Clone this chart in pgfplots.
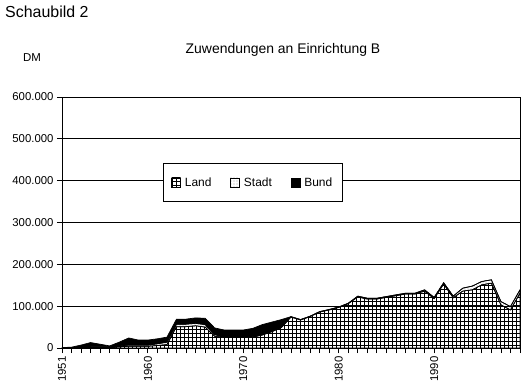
\documentclass[border=0pt]{standalone}
\usepackage{pgfplots}
\pgfplotsset{compat=1.18}
\usepackage{pgfplotstable}
\usetikzlibrary{patterns.meta}
\usepackage{fontspec}
\setmainfont{Liberation Sans}

\pgfplotstableread{
year land stadt bund
1951 0 0 1000
1952 500 500 1000
1953 1000 1000 5000
1954 2000 1000 10000
1955 2000 1000 6000
1956 2000 1000 2000
1957 3000 2000 9000
1958 4000 3000 17000
1959 4000 3000 12000
1960 4000 3000 12000
1961 6000 4000 12000
1962 8000 6000 12000
1963 51000 6000 12000
1964 51000 6000 12000
1965 53000 6000 13000
1966 50000 6000 15000
1967 28000 4000 16000
1968 25000 1000 17000
1969 25000 1000 17000
1970 25000 1000 17000
1971 26000 1000 20000
1972 31000 1000 24000
1973 39000 1000 22000
1974 49000 1000 18000
1975 74000 1000 0
1976 67000 1000 0
1977 75000 1000 0
1978 86000 1000 0
1979 91000 1000 0
1980 97000 1000 0
1981 106000 1000 0
1982 122000 2000 0
1983 117000 2000 0
1984 117000 2000 0
1985 121000 2000 0
1986 125000 2000 0
1987 129000 2000 0
1988 129000 2000 0
1989 136000 3000 0
1990 118000 3000 0
1991 153000 3000 0
1992 120000 4000 0
1993 136000 7000 0
1994 139000 9000 0
1995 151000 8000 0
1996 155000 8000 0
1997 103000 8000 0
1998 91000 8000 0
1999 131000 8000 0
}\datatable

\begin{document}
\begin{tikzpicture}
\useasboundingbox (0,0) rectangle (525bp,385bp);
\node[anchor=west, font=\fontsize{16}{18}\selectfont, inner sep=0pt] at (5bp,373bp) {Schaubild 2};
\node[font=\fontsize{11.5}{13}\selectfont, inner sep=0pt] at (32bp,327bp) {DM};
\node[font=\fontsize{14}{16}\selectfont, inner sep=0pt] at (283bp,335bp) {Zuwendungen an Einrichtung B};
\begin{axis}[
  at={(62bp,37bp)}, anchor=south west,
  scale only axis, width=458bp, height=251bp,
  xmin=1951, xmax=1999, ymin=0, ymax=600000,
  stack plots=y,
  xtick={1951,1960,1970,1980,1990},
  xticklabels={1951,1960,1970,1980,1990},
  minor xtick={1951,1952,1953,1954,1955,1956,1957,1958,1959,1960,1961,1962,1963,1964,1965,1966,1967,1968,1969,1970,1971,1972,1973,1974,1975,1976,1977,1978,1979,1980,1981,1982,1983,1984,1985,1986,1987,1988,1989,1990,1991,1992,1993,1994,1995,1996,1997,1998,1999},
  ytick={0,100000,200000,300000,400000,500000,600000},
  yticklabels={0,100.000,200.000,300.000,400.000,500.000,600.000},
  scaled y ticks=false,
  tick align=outside, major tick length=5bp, minor tick length=5bp,
  xtick pos=left, ytick pos=left,
  ymajorgrids, grid style={black, line width=0.8bp},
  axis line style={black, line width=0.8bp},
  every tick/.style={black, line width=0.8bp},
  minor tick style={black, line width=0.8bp},
  x tick label style={rotate=90, anchor=east, font=\fontsize{11.4}{13}\selectfont},
  y tick label style={font=\fontsize{11.4}{13}\selectfont},
  legend columns=3,
  legend style={at={(0.2205,0.737)}, anchor=north west, draw=black, line width=0.8bp,
    font=\fontsize{12}{14}\selectfont, inner xsep=8bp, inner ysep=12bp,
    /tikz/every odd column/.append style={column sep=2bp},
    /tikz/every even column/.append style={column sep=17bp}},
  legend image code/.code={\draw[#1, line width=0.5bp] (0bp,-4.5bp) rectangle (9bp,4.5bp);},
]
\addplot[draw=black, line width=0.7bp, pattern={Hatch[angle=0, distance=4bp, line width=0.5bp]}]
  table[x=year, y=land] {\datatable} \closedcycle;
\addlegendentry{Land}
\addplot[draw=black, line width=0.7bp, pattern={Dots[distance=3bp, radius=0.45bp]}]
  table[x=year, y=stadt] {\datatable} \closedcycle;
\addlegendentry{Stadt}
\addplot[draw=black, line width=0.7bp, fill=black]
  table[x=year, y=bund] {\datatable} \closedcycle;
\addlegendentry{Bund}
\end{axis}
\end{tikzpicture}
\end{document}
